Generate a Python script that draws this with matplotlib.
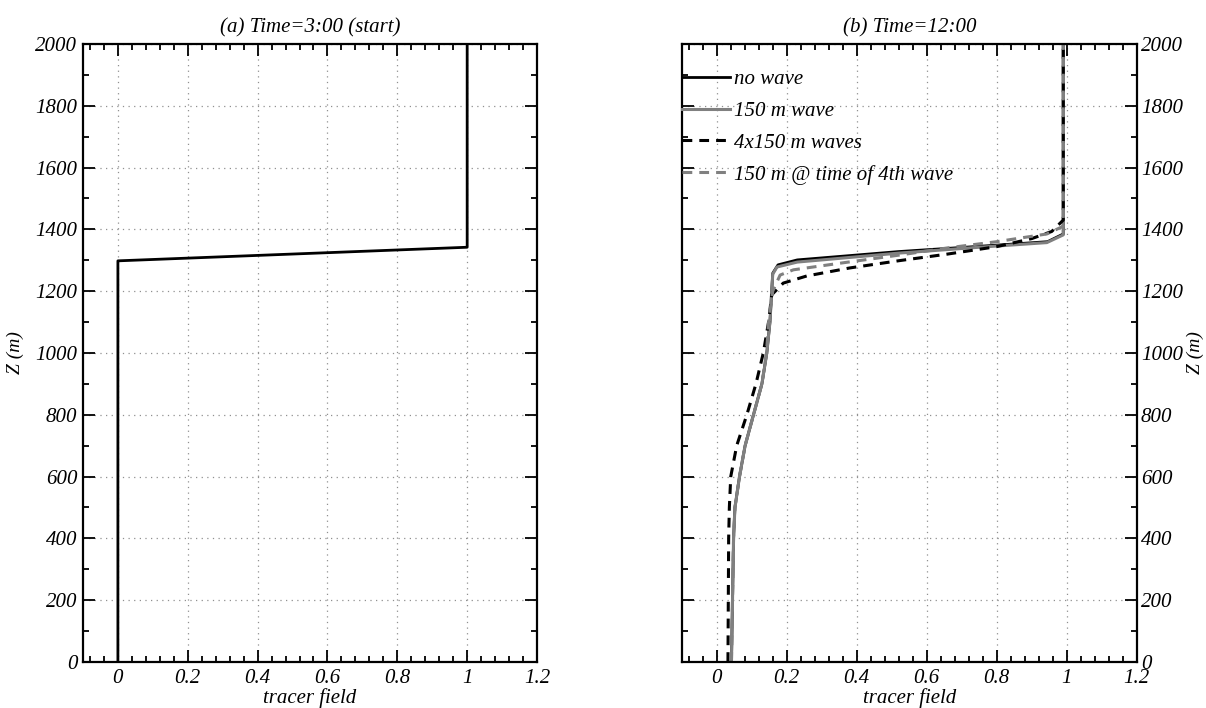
import matplotlib
matplotlib.use('Agg')
import matplotlib.pyplot as plt
from matplotlib.ticker import MultipleLocator, FormatStrFormatter

plt.rcParams['font.family'] = 'Liberation Serif'
plt.rcParams['font.style'] = 'italic'
plt.rcParams['font.size'] = 15

# (a) initial profile
z_start = [0, 1298, 1342, 2000]
x_start = [0, 0, 1, 1]

# (b) profiles at 12:00
z_nowave = [0, 200, 400, 500, 600, 700, 800, 900, 1000, 1100, 1200, 1258, 1285,
            1301, 1328, 1345, 1360, 1385, 1420, 2000]
x_nowave = [0.042, 0.045, 0.048, 0.052, 0.065, 0.081, 0.105, 0.129, 0.143, 0.152,
            0.157, 0.16, 0.175, 0.23, 0.52, 0.75, 0.945, 0.99, 0.99, 0.99]

z_wave = [0, 200, 400, 500, 600, 700, 800, 900, 1000, 1100, 1200, 1255, 1278,
          1294, 1323, 1342, 1357, 1382, 1420, 2000]
x_wave = [0.042, 0.045, 0.048, 0.052, 0.065, 0.081, 0.105, 0.129, 0.143, 0.152,
          0.157, 0.16, 0.172, 0.23, 0.52, 0.75, 0.943, 0.99, 0.99, 0.99]

z_4waves = [0, 200, 400, 500, 600, 700, 800, 900, 1000, 1100, 1188, 1226, 1249,
            1275, 1299, 1320, 1344, 1370, 1393, 1430, 2000]
x_4waves = [0.032, 0.033, 0.034, 0.036, 0.04, 0.057, 0.086, 0.112, 0.133, 0.148,
            0.157, 0.19, 0.257, 0.38, 0.524, 0.66, 0.8, 0.9, 0.957, 0.99, 0.99]

z_4th = [0, 200, 400, 500, 600, 700, 800, 900, 1000, 1100, 1200, 1252, 1269,
         1290, 1317, 1340, 1360, 1385, 1410, 2000]
x_4th = [0.042, 0.045, 0.048, 0.052, 0.065, 0.081, 0.105, 0.129, 0.142, 0.148,
         0.16, 0.181, 0.219, 0.35, 0.524, 0.66, 0.8, 0.943, 0.99, 0.99]

labels = ['no wave', '150 m wave', '4x150 m waves', '150 m @ time of 4th wave']
titles = ['(a) Time=3:00 (start)', '(b) Time=12:00']

grey = '#808080'

fig = plt.figure(figsize=(12.06, 7.08), dpi=100)
ax1 = fig.add_axes([0.0688, 0.065, 0.3765, 0.873])
ax2 = fig.add_axes([0.5653, 0.065, 0.3773, 0.873])

ax1.plot(x_start, z_start, color='k', lw=2)

ax2.plot(x_nowave, z_nowave, color='k', lw=2, label=labels[0])
ax2.plot(x_wave, z_wave, color=grey, lw=2.2, label=labels[1])
ax2.plot(x_4waves, z_4waves, color='k', lw=2.2, ls=(0, (3.2, 2.3)), label=labels[2])
ax2.plot(x_4th, z_4th, color=grey, lw=2.2, ls=(0, (3.2, 2.3)), label=labels[3])

for ax, t in zip([ax1, ax2], titles):
    ax.set_xlim(-0.1, 1.2)
    ax.set_ylim(0, 2000)
    ax.xaxis.set_major_locator(MultipleLocator(0.2))
    ax.xaxis.set_minor_locator(MultipleLocator(0.04))
    ax.yaxis.set_major_locator(MultipleLocator(200))
    ax.yaxis.set_minor_locator(MultipleLocator(100))
    ax.xaxis.set_major_formatter(FormatStrFormatter('%g'))
    ax.tick_params(which='both', direction='in', top=True, right=True, left=True,
                   width=1.3, labelsize=15)
    ax.tick_params(which='major', length=8.5, pad=4)
    ax.tick_params(axis='x', which='major', pad=5)
    ax.tick_params(which='minor', length=4)
    ax.grid(True, which='major', ls=(0, (1, 3.5)), color='#909090', lw=0.9)
    for sp in ax.spines.values():
        sp.set_linewidth(1.6)
    ax.set_title(t, fontsize=15, pad=8)
    ax.set_xlabel('tracer field', fontsize=15, labelpad=0)

ax1.set_ylabel('Z (m)', fontsize=14, labelpad=8)
ax2.yaxis.tick_right()
ax2.tick_params(which='both', left=True, right=True)
ax2.tick_params(axis='y', which='major', pad=3)
ax2.yaxis.set_label_position('right')
ax2.set_ylabel('Z (m)', fontsize=14, labelpad=3)

ax2.legend(loc='upper left', bbox_to_anchor=(0.0, 0.958), frameon=False,
           handlelength=2.3, handletextpad=0.2, borderaxespad=0.0, borderpad=0.0,
           labelspacing=0.58, fontsize=15)

fig.savefig('out.png', dpi=100)
